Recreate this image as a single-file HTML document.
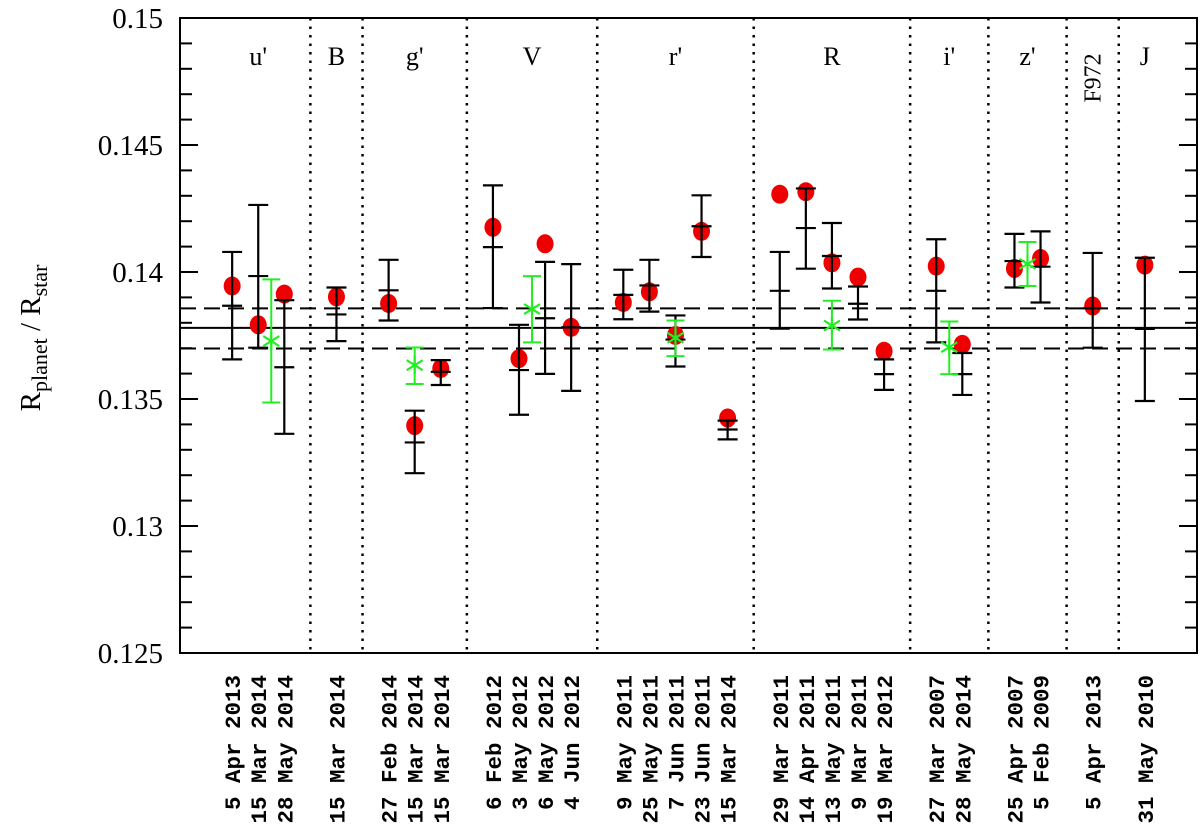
<!DOCTYPE html>
<html><head><meta charset="utf-8"><style>
html,body{margin:0;padding:0;background:#fff;}
svg{display:block;}
</style></head><body>
<svg id="chart" width="1200" height="835" xmlns="http://www.w3.org/2000/svg"></svg>
<script>
// ---- data ----
const bandNames = ["u'","B","g'","V","r'","R","i'","z'","F972","J"];
const bandCenters = [3,6,9,13.5,19,25,29.5,32.5,35,37];
const separators = [5,7,11,16,22,28,31,34,36];
const dateLabels = [" 5 Apr 2013","15 Mar 2014","28 May 2014","15 Mar 2014","27 Feb 2014","15 Mar 2014","15 Mar 2014",
 " 6 Feb 2012"," 3 May 2012"," 6 May 2012"," 4 Jun 2012"," 9 May 2011","25 May 2011"," 7 Jun 2011","23 Jun 2011","15 Mar 2014",
 "29 Mar 2011","14 Apr 2011","13 May 2011"," 9 Mar 2011","19 Mar 2012","27 Mar 2007","28 May 2014","25 Apr 2007"," 5 Feb 2009",
 " 5 Apr 2013","31 May 2010"];
const redSlots = [2,3,4,6,8,9,10,12,13,14,15,17,18,19,20,21,23,24,25,26,27,29,30,32,33,35,37];
const redValues = [0.13945,0.13792,0.13913,0.13902,0.13876,0.13395,0.1362,0.14176,0.13659,0.14111,0.13782,0.1388,0.13922,0.1375,0.1416,0.13425,
 0.14306,0.14316,0.14036,0.1398,0.13688,0.14023,0.13715,0.14014,0.14053,0.13866,0.14027];
const redBarTop = [0.14079,0.14264,0.13889,0.13939,0.14048,0.13454,0.13653,0.14341,0.13792,0.1404,0.14031,0.14009,0.14048,0.13829,0.14302,0.13415,
 0.14079,0.14329,0.14193,0.13943,0.13656,0.14129,0.13681,0.1415,0.1416,0.14075,0.14056];
const redBarBottom = [0.13656,0.13702,0.13363,0.13728,0.13809,0.13208,0.13555,0.13858,0.13438,0.13599,0.13532,0.13814,0.13844,0.13628,0.14059,0.13341,
 0.13777,0.14013,0.13935,0.13813,0.13536,0.13723,0.13516,0.13939,0.1388,0.13702,0.13492];
const redMidTick = [0.13867,0.13984,0.13625,0.13833,0.13928,0.13329,0.13607,0.14098,0.13614,0.13818,0.13782,0.1391,0.13947,0.13734,0.1418,0.1338,
 0.13926,0.14173,0.14063,0.13875,0.13598,0.13926,0.13598,0.14043,0.14021,0.13857,0.13776];
const greenSlots = [3.5,9,13.5,19,25,29.5,32.5];
const greenValues = [0.13728,0.13633,0.13854,0.13741,0.13789,0.13704,0.14032];
const greenTop = [0.13971,0.13703,0.13984,0.13809,0.13887,0.13805,0.14118];
const greenBottom = [0.13486,0.13559,0.13723,0.13669,0.13695,0.13598,0.13945];
const meanValue = 0.1378;
const meanLow = 0.13699;
const meanHigh = 0.13857;
const yTicks = [0.125,0.13,0.135,0.14,0.145,0.15];
const yTickLabels = ["0.125","0.13","0.135","0.14","0.145","0.15"];

// ---- scales ----
const L=180,R=1197,T=18,B=653;
const xS = s => L + s*(R-L)/39;
const yS = v => T + (0.15-v)*(B-T)/0.025;
const svg=document.getElementById('chart');
const NS="http://www.w3.org/2000/svg";
function mk(tag,attrs,parent){const e=document.createElementNS(NS,tag);for(const k in attrs)e.setAttribute(k,attrs[k]);(parent||svg).appendChild(e);return e;}

separators.forEach(s=>{
 const l=mk('line',{x1:xS(s),x2:xS(s),y1:T,y2:B,stroke:'#000','stroke-width':2.5,'stroke-dasharray':'2.5 6'});
 
 
});
[[meanHigh,'16 8','mean-upper-line'],[meanValue,null,'mean-line'],[meanLow,'16 8','mean-lower-line']].forEach(d=>{
 const a={x1:L,x2:R,y1:yS(d[0]),y2:yS(d[0]),stroke:'#000','stroke-width':2};
 if(d[1])a['stroke-dasharray']=d[1];
 const l=mk('line',a);
 
 
});
const fr=mk('rect',{x:L,y:T,width:R-L,height:B-T,fill:'none',stroke:'#000','stroke-width':2});


for(let i=0;i<=25;i++){
 const v=0.125+i*0.001, y=yS(v), major=(i%5===0), len=major?18:12;
 mk('line',{x1:L,x2:L+len,y1:y,y2:y,stroke:'#000','stroke-width':2});
 mk('line',{x1:R-len,x2:R,y1:y,y2:y,stroke:'#000','stroke-width':2});
}
yTicks.forEach((v,i)=>{
 const t=mk('text',{x:163,y:yS(v)+10,'text-anchor':'end','font-family':'Liberation Serif, serif','font-size':29});
 t.textContent=yTickLabels[i];
 
 
});
const yt=mk('text',{transform:'translate(40,338) rotate(-90)','text-anchor':'middle','font-family':'Liberation Serif, serif','font-size':29});
yt.innerHTML='R<tspan font-size="22" dy="7">planet</tspan><tspan dy="-7">  /  R</tspan><tspan font-size="22" dy="7">star</tspan>';
yt.setAttribute('xml:space','preserve');


bandNames.forEach((n,i)=>{
 let t;
 if(n==='F972'){
  t=mk('text',{transform:`translate(${xS(bandCenters[i])+8},78) rotate(-90)`,'text-anchor':'middle','font-family':'Liberation Serif, serif','font-size':24});
 } else {
  t=mk('text',{x:xS(bandCenters[i]),y:65,'text-anchor':'middle','font-family':'Liberation Serif, serif','font-size':26});
 }
 t.textContent=n;
 
 
});
dateLabels.forEach((d,i)=>{
 const x=xS(redSlots[i])+8;
 const t=mk('text',{transform:`translate(${x},675) rotate(-90)`,'text-anchor':'end','font-family':'Liberation Mono, monospace','font-size':22.5,'font-weight':'bold'});
 t.setAttribute('xml:space','preserve');
 t.textContent=d;
 
 
});
redSlots.forEach((s,i)=>{
 const g=mk('g',{});
 
 
 const x=xS(s);
 mk('ellipse',{cx:x,cy:yS(redValues[i]),rx:8.5,ry:9.5,fill:'#ee0000'},g);
 mk('line',{x1:x,x2:x,y1:yS(redBarTop[i]),y2:yS(redBarBottom[i]),stroke:'#000','stroke-width':2.2},g);
 [redBarTop[i],redBarBottom[i],redMidTick[i]].forEach(v=>{
  mk('line',{x1:x-10,x2:x+10,y1:yS(v),y2:yS(v),stroke:'#000','stroke-width':2.2},g);
 });
});
greenSlots.forEach((s,i)=>{
 const g=mk('g',{});
 
 
 const x=xS(s), y=yS(greenValues[i]);
 mk('line',{x1:x,x2:x,y1:yS(greenTop[i]),y2:yS(greenBottom[i]),stroke:'#22ee22','stroke-width':2},g);
 [greenTop[i],greenBottom[i]].forEach(v=>mk('line',{x1:x-9,x2:x+9,y1:yS(v),y2:yS(v),stroke:'#22ee22','stroke-width':2},g));
 [[0,-9],[8,-5],[8,5]].forEach(d=>mk('line',{x1:x-d[0],y1:y-d[1],x2:x+d[0],y2:y+d[1],stroke:'#22ee22','stroke-width':2.2},g));
});
</script>
</body></html>
